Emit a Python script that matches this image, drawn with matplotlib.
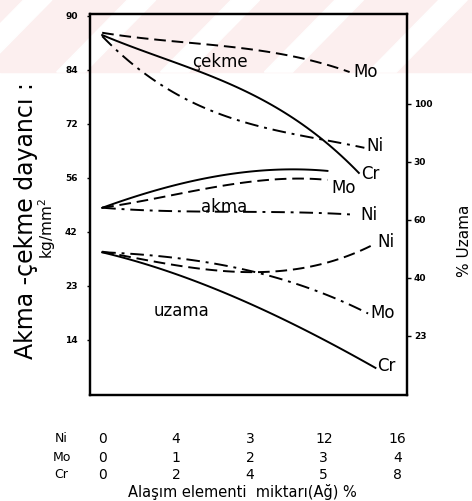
import numpy as np
import matplotlib.pyplot as plt
from matplotlib.patches import Rectangle, Polygon

# x positions are in Ni units (0..16); Mo and Cr rows are just relabels
ni_ticks = [0, 4, 8, 12, 16]
ni_labels = ["0", "4", "3", "12", "16"]
mo_labels = ["0", "1", "2", "3", "4"]
cr_labels = ["0", "2", "4", "5", "8"]

left_ticks = [14, 28, 42, 56, 70, 84, 98]
left_labels = ["14", "23", "42", "56", "72", "84", "90"]
right_ticks = [20, 40, 60, 80, 100]
right_labels = ["23", "40", "60", "30", "100"]

# cekme (left axis)
cek_mo_x = [0, 2.6, 7.1, 10.5, 13.4]
cek_mo_y = [93.6, 91.8, 90.0, 87.1, 83.4]
cek_cr_x = [0, 4.2, 7.5, 11.4, 13.9]
cek_cr_y = [93.0, 85.2, 79.3, 67.6, 57.3]
cek_ni_x = [0, 2.05, 5.7, 8.5, 11.8, 14.2]
cek_ni_y = [93.0, 83.2, 74.1, 69.7, 65.3, 64.0]

# akma (left axis)
akma_cr_x = [0, 3.1, 5.8, 10.3, 12.2]
akma_cr_y = [48.2, 52.8, 56.2, 58.0, 57.8]
akma_mo_x = [0, 3.1, 6.8, 12.2]
akma_mo_y = [48.2, 50.8, 54.1, 55.4]
akma_ni_x = [0, 3.1, 8.5, 13.6]
akma_ni_y = [48.2, 47.4, 47.1, 46.4]

# uzama (right axis)
uz_ni_x = [0, 4.2, 8.0, 10.7, 12.9, 14.8]
uz_ni_y = [49.0, 44.5, 41.4, 43.5, 46.9, 51.7]
uz_mo_x = [0, 4.2, 9.2, 12.3, 14.4]
uz_mo_y = [49.0, 46.2, 41.7, 32.4, 28.3]
uz_cr_x = [0, 4.2, 7.5, 10.5, 12.9, 14.8]
uz_cr_y = [49.0, 40.0, 33.8, 23.1, 15.2, 9.3]


def smooth(x, y, n=60):
    xs = np.linspace(x[0], x[-1], n)
    deg = min(3, len(x) - 1)
    return xs, np.polyval(np.polyfit(x, y, deg), xs)


fig = plt.figure(figsize=(4.72, 5.01), dpi=100)

# faint pink scan watermark band at the top
band_h = 72 / 501
fig.patches.append(Rectangle((0, 1 - band_h), 1, band_h, transform=fig.transFigure,
                             color="#fcefef", zorder=-10))
for x0 in np.arange(-0.1, 1.1, 0.22):
    fig.patches.append(Polygon([(x0, 1 - band_h), (x0 + 0.06, 1 - band_h),
                                (x0 + 0.06 + 0.15, 1), (x0 + 0.15, 1)],
                               closed=True, transform=fig.transFigure,
                               color="white", zorder=-9))

ax = fig.add_axes([0.191, 0.212, 0.671, 0.760])
ax2 = ax.twinx()
ax.patch.set_alpha(0)
ax2.patch.set_alpha(0)

lw = 1.4
dash = (0, (6, 3))
dashdot = (0, (7, 3, 1.5, 3))

ax.plot(*smooth(cek_mo_x, cek_mo_y), color="k", lw=lw, ls=dash)
ax.plot(*smooth(cek_cr_x, cek_cr_y), color="k", lw=lw)
ax.plot(*smooth(cek_ni_x, cek_ni_y), color="k", lw=lw, ls=dashdot)
ax.plot(*smooth(akma_cr_x, akma_cr_y), color="k", lw=lw)
ax.plot(*smooth(akma_mo_x, akma_mo_y), color="k", lw=lw, ls=dash)
ax.plot(*smooth(akma_ni_x, akma_ni_y), color="k", lw=lw, ls=dashdot)
ax2.plot(*smooth(uz_ni_x, uz_ni_y), color="k", lw=lw, ls=dash)
ax2.plot(*smooth(uz_mo_x, uz_mo_y), color="k", lw=lw, ls=dashdot)
ax2.plot(*smooth(uz_cr_x, uz_cr_y), color="k", lw=lw)

ax.set_xlim(-0.65, 16.5)
ax.set_ylim(-0.3, 98.4)
ax2.set_ylim(-0.3, 131)

for a in (ax, ax2):
    for s in a.spines.values():
        s.set_linewidth(1.6)

ax.set_xticks([])
ax.set_yticks(left_ticks)
ax.set_yticklabels(left_labels, fontsize=6.5, fontweight="bold")
ax.tick_params(axis="y", length=2, width=1, pad=7)
ax2.set_yticks(right_ticks)
ax2.set_yticklabels(right_labels, fontsize=6.5, fontweight="bold")
ax2.tick_params(axis="y", length=3, width=1, pad=2)

# curve labels
lab = dict(fontsize=12, color="k", va="center")
ax.text(6.4, 86.0, "çekme", ha="center", **lab)
ax.text(13.6, 83.4, "Mo", ha="left", **lab)
ax.text(14.3, 64.2, "Ni", ha="left", **lab)
ax.text(14.0, 57.0, "Cr", ha="left", **lab)
ax.text(12.4, 53.4, "Mo", ha="left", **lab)
ax.text(6.6, 48.3, "akma", ha="center", **lab)
ax.text(14.0, 46.4, "Ni", ha="left", **lab)
ax2.text(14.9, 52.5, "Ni", ha="left", **lab)
ax2.text(4.3, 28.5, "uzama", ha="center", **lab)
ax2.text(14.5, 28.0, "Mo", ha="left", **lab)
ax2.text(14.9, 9.5, "Cr", ha="left", **lab)

# three rows of x tick labels
trans = ax.get_xaxis_transform()
rows = [("Ni", ni_labels, -0.115), ("Mo", mo_labels, -0.165), ("Cr", cr_labels, -0.21)]
for name, labels, yy in rows:
    ax.text(-2.2, yy, name, transform=trans, fontsize=9, ha="center", va="center")
    for xv, t in zip(ni_ticks, labels):
        ax.text(xv, yy, t, transform=trans, fontsize=10, ha="center", va="center")

ax.text(7.6, -0.255, "Alaşım elementi  miktarı(Ağ) %", transform=trans,
        fontsize=10.5, ha="center", va="center")

fig.text(0.055, 0.56, "Akma -çekme dayancı :", rotation=90, fontsize=17,
         ha="center", va="center")
fig.text(0.099, 0.545, "kg/mm$^2$", rotation=90, fontsize=11,
         ha="center", va="center")
fig.text(0.985, 0.52, "% Uzama", rotation=90, fontsize=11,
         ha="center", va="center")

fig.savefig("out.png", dpi=100)
